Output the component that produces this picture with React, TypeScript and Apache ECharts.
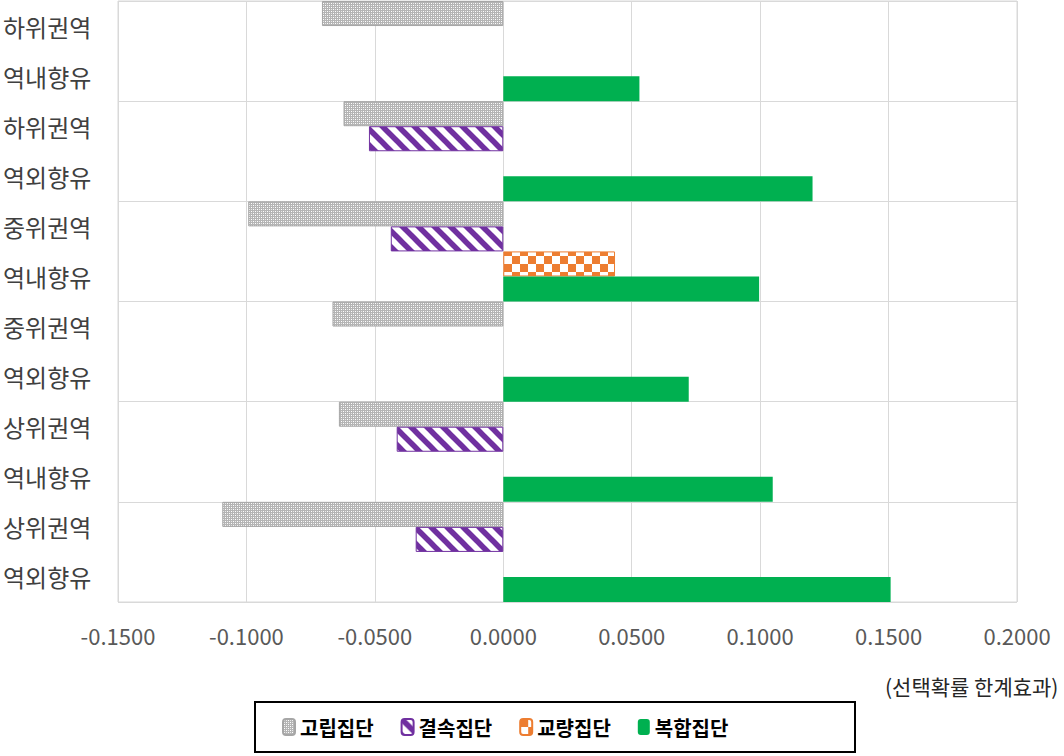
import { useEffect, useRef } from 'react';
import * as echarts from 'echarts';

const regions = ['하위권역', '하위권역', '중위권역', '중위권역', '상위권역', '상위권역'];
const directions = ['역내향유', '역외향유', '역내향유', '역외향유', '역내향유', '역외향유'];
const seriesNames = ['고립집단', '결속집단', '교량집단', '복합집단'];
const isolated = [-0.0706, -0.0622, -0.0993, -0.0665, -0.064, -0.1094];
const bonding = [null, -0.0523, -0.0438, null, -0.0415, -0.0341];
const bridging = [null, null, 0.0435, null, null, null];
const complexG = [0.053, 0.1204, 0.0996, 0.0722, 0.1049, 0.1508];
const xMin = -0.15;
const xMax = 0.2;
const xStep = 0.05;
const unitLabel = '(선택확률 한계효과)';

const FONT = "'Noto Sans CJK KR', 'Noto Sans', sans-serif";

function makeTile(w: number, h: number, draw: (ctx: CanvasRenderingContext2D) => void) {
  const c = document.createElement('canvas');
  c.width = w;
  c.height = h;
  const ctx = c.getContext('2d') as CanvasRenderingContext2D;
  draw(ctx);
  return c;
}

export default function App() {
  const ref = useRef<HTMLDivElement>(null);
  useEffect(() => {
    if (!ref.current) return;
    const chart = echarts.init(ref.current, null, { renderer: 'svg' });

    const dotTile = makeTile(4, 4, (ctx) => {
      ctx.fillStyle = '#b4b4b4';
      ctx.fillRect(0, 0, 4, 4);
      ctx.fillStyle = '#ffffff';
      ctx.fillRect(1, 1, 1, 1);
      ctx.fillRect(3, 3, 1, 1);
      ctx.fillStyle = '#e8e8e8';
      ctx.fillRect(3, 1, 1, 1);
      ctx.fillRect(1, 3, 1, 1);
    });
    const stripeTile = makeTile(16, 16, (ctx) => {
      ctx.fillStyle = '#ffffff';
      ctx.fillRect(0, 0, 16, 16);
      ctx.strokeStyle = '#7030A0';
      ctx.lineWidth = 5.5;
      for (const k of [-16, 0, 16]) {
        ctx.beginPath();
        ctx.moveTo(-16, -16 + k);
        ctx.lineTo(32, 32 + k);
        ctx.stroke();
      }
    });
    const checkTile = makeTile(16, 16, (ctx) => {
      ctx.fillStyle = '#ffffff';
      ctx.fillRect(0, 0, 16, 16);
      ctx.fillStyle = '#ED7D31';
      ctx.fillRect(0, 0, 8, 8);
      ctx.fillRect(8, 8, 8, 8);
    });

    const pat = (c: HTMLCanvasElement) => ({
      image: c,
      repeat: 'repeat',
      imageWidth: c.width,
      imageHeight: c.height,
    });

    const categories = regions.map((r, i) => r + '\n' + directions[i]);
    const dataSets = [isolated, bonding, bridging, complexG];
    const styles = [
      { color: pat(dotTile), borderColor: '#a6a6a6', borderWidth: 1 },
      { color: pat(stripeTile), borderColor: '#7030A0', borderWidth: 1 },
      { color: pat(checkTile), borderColor: '#ED7D31', borderWidth: 1 },
      { color: '#00B050', borderWidth: 0 },
    ];

    chart.setOption({
      animation: false,
      textStyle: { fontFamily: FONT },
      grid: {
        left: 116,
        top: 1,
        width: 901,
        height: 601,
        show: true,
        borderColor: '#d9d9d9',
        borderWidth: 1,
      },
      xAxis: {
        type: 'value',
        min: xMin,
        max: xMax,
        interval: xStep,
        axisLine: { show: false },
        axisTick: { show: false },
        splitLine: { show: true, lineStyle: { color: '#d9d9d9', width: 1 } },
        axisLabel: {
          fontSize: 22,
          color: '#595959',
          margin: 22,
          fontFamily: FONT,
          formatter: (v: number) => (Math.abs(v) < 1e-9 ? '0.0000' : v.toFixed(4)),
        },
      },
      yAxis: {
        type: 'category',
        inverse: true,
        data: categories,
        axisLine: { show: false },
        axisTick: { show: false },
        splitLine: { show: true, interval: 0, lineStyle: { color: '#d9d9d9', width: 1 } },
        axisLabel: {
          fontSize: 24,
          lineHeight: 50,
          color: '#404040',
          align: 'left',
          margin: 115,
          interval: 0,
          fontFamily: FONT,
        },
      },
      legend: {
        left: 282,
        top: 717,
        itemWidth: 12,
        itemHeight: 16,
        itemGap: 27,
        padding: 0,
        textStyle: { fontSize: 20, color: '#000', fontWeight: 'bold', fontFamily: FONT },
        data: seriesNames,
      },
      graphic: [
        {
          type: 'rect',
          shape: { x: 255, y: 702, width: 600, height: 50 },
          style: { fill: 'none', stroke: '#000', lineWidth: 2 },
        },
        {
          type: 'text',
          left: 885,
          top: 675,
          style: { text: unitLabel, fontSize: 21, fill: '#262626', fontFamily: FONT },
        },
      ],
      series: seriesNames.map((name, i) => ({
        name,
        type: 'bar',
        data: dataSets[i],
        barGap: '0%',
        barCategoryGap: '0%',
        itemStyle: styles[i],
      })),
    });
    return () => chart.dispose();
  }, []);
  return (
    <div
      ref={ref}
      style={{ position: 'fixed', left: 0, top: 0, width: 1064, height: 756, background: '#fff' }}
    />
  );
}
